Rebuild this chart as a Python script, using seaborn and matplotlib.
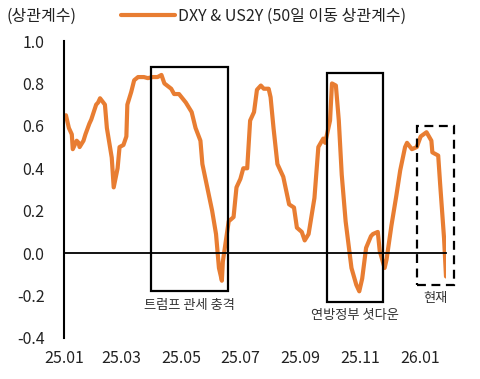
import pandas as pd
import matplotlib
matplotlib.use("Agg")
import matplotlib.pyplot as plt
import matplotlib.dates as mdates
from matplotlib.patches import Rectangle
import seaborn as sns

dates = ["2025-01-03", "2025-01-06", "2025-01-09", "2025-01-10", "2025-01-14", "2025-01-16",
         "2025-01-17", "2025-01-21", "2025-01-23", "2025-01-27", "2025-01-29", "2025-02-03",
         "2025-02-05", "2025-02-07", "2025-02-12", "2025-02-14", "2025-02-19", "2025-02-21",
         "2025-02-25", "2025-02-27", "2025-03-03", "2025-03-06", "2025-03-07", "2025-03-11",
         "2025-03-14", "2025-03-18", "2025-03-24", "2025-03-28", "2025-04-02", "2025-04-07",
         "2025-04-11", "2025-04-14", "2025-04-21", "2025-04-24", "2025-04-29", "2025-05-06",
         "2025-05-12", "2025-05-16", "2025-05-21", "2025-05-23", "2025-05-28", "2025-06-02",
         "2025-06-06", "2025-06-09", "2025-06-12", "2025-06-13", "2025-06-19", "2025-06-24",
         "2025-06-27", "2025-07-01", "2025-07-04", "2025-07-08", "2025-07-11", "2025-07-15",
         "2025-07-18", "2025-07-22", "2025-07-25", "2025-07-30", "2025-08-01", "2025-08-04",
         "2025-08-08", "2025-08-14", "2025-08-20", "2025-08-25", "2025-08-28", "2025-09-02",
         "2025-09-05", "2025-09-09", "2025-09-15", "2025-09-19", "2025-09-24", "2025-09-26",
         "2025-10-01", "2025-10-03", "2025-10-07", "2025-10-10", "2025-10-13", "2025-10-17",
         "2025-10-23", "2025-10-28", "2025-10-31", "2025-11-03", "2025-11-07", "2025-11-12",
         "2025-11-14", "2025-11-19", "2025-11-21", "2025-11-26", "2025-11-28", "2025-12-03",
         "2025-12-08", "2025-12-12", "2025-12-17", "2025-12-19", "2025-12-24", "2025-12-29",
         "2026-01-02", "2026-01-08", "2026-01-13", "2026-01-14", "2026-01-20", "2026-01-22",
         "2026-01-26", "2026-01-28"]
corr = [0.65, 0.59, 0.56, 0.49, 0.53, 0.52,
        0.50, 0.53, 0.56, 0.61, 0.63, 0.70,
        0.71, 0.73, 0.70, 0.59, 0.45, 0.31,
        0.40, 0.50, 0.51, 0.55, 0.70, 0.76,
        0.815, 0.83, 0.83, 0.825, 0.83, 0.83,
        0.84, 0.80, 0.775, 0.75, 0.75, 0.71,
        0.665, 0.59, 0.53, 0.42, 0.31, 0.20,
        0.09, -0.07, -0.13, -0.04, 0.15, 0.17,
        0.31, 0.35, 0.40, 0.40, 0.625, 0.665,
        0.77, 0.79, 0.775, 0.775, 0.735, 0.59,
        0.42, 0.36, 0.23, 0.215, 0.12, 0.10,
        0.06, 0.09, 0.26, 0.50, 0.54, 0.52,
        0.625, 0.80, 0.79, 0.625, 0.37, 0.15,
        -0.07, -0.15, -0.18, -0.12, 0.025, 0.08,
        0.09, 0.10, 0.01, -0.07, -0.03, 0.13,
        0.27, 0.39, 0.50, 0.52, 0.49, 0.50,
        0.55, 0.57, 0.53, 0.475, 0.46, 0.325,
        0.07, -0.11]

series_name = "DXY & US2Y (50일 이동 상관계수)"
# highlighted periods: (start, end, low, high, label, dashed)
periods = [("2025-03-31", "2025-06-18", -0.18, 0.878, "트럼프 관세 충격", False),
           ("2025-09-28", "2025-11-24", -0.23, 0.847, "연방정부 셧다운", False),
           ("2025-12-29", "2026-02-05", -0.15, 0.60, "현재", True)]

df = pd.DataFrame({"date": pd.to_datetime(dates), "corr": corr})

sns.set_style("white")
plt.rcParams['font.family'] = ['Noto Sans CJK KR', 'DejaVu Sans']
plt.rcParams['axes.unicode_minus'] = False

fig = plt.figure(figsize=(4.8, 3.79), dpi=100)
ax = fig.add_axes([64/480, 1-338/379, (446-64)/480, (338-41)/379])

sns.lineplot(data=df, x="date", y="corr", color="#E87D32", linewidth=3.0, ax=ax, label=series_name)

for start, end, lo, hi, label, dashed in periods:
    x0 = mdates.date2num(pd.Timestamp(start))
    x1 = mdates.date2num(pd.Timestamp(end))
    ax.add_patch(Rectangle((x0, lo), x1 - x0, hi - lo, fill=False, edgecolor="black",
                           linewidth=1.6, linestyle=(0, (4, 2.5)) if dashed else "-",
                           clip_on=False, zorder=4))
    ax.text((x0 + x1) / 2, lo - 0.035, label, ha="center", va="top", fontsize=9.5, color="#333333")

ax.set_ylim(-0.4, 1.0)
ax.set_yticks([-0.4, -0.2, 0.0, 0.2, 0.4, 0.6, 0.8, 1.0])
ax.yaxis.set_major_formatter(plt.FormatStrFormatter('%.1f'))
ax.set_xlim(pd.Timestamp("2025-01-01"), pd.Timestamp("2026-01-28"))
ax.set_xticks(pd.to_datetime(["2025-01-01", "2025-03-01", "2025-05-01", "2025-07-01",
                              "2025-09-01", "2025-11-01", "2026-01-01"]))
ax.xaxis.set_major_formatter(mdates.DateFormatter('%y.%m'))
ax.set_xlabel("")
ax.set_ylabel("")

for s in ["top", "right"]:
    ax.spines[s].set_visible(False)
ax.spines["left"].set_color("black")
ax.spines["left"].set_linewidth(1.5)
ax.spines["bottom"].set_position(("data", 0))
ax.spines["bottom"].set_color("black")
ax.spines["bottom"].set_linewidth(1.3)

ax.tick_params(axis="y", direction="in", length=4, width=1.3, pad=14, labelsize=11.5, colors="black")
ax.tick_params(axis="x", direction="in", length=4, width=1.3, pad=70, labelsize=11.5, colors="black")
ax.tick_params(axis="y", labelcolor="#222222")
ax.tick_params(axis="x", labelcolor="#222222")

fig.text(7/480, 1-16/379, "(상관계수)", fontsize=11.5, va="center", ha="left", color="#222222")
ax.legend(loc="center left", bbox_to_anchor=(113/480, 1-16/379), bbox_transform=fig.transFigure,
          frameon=False, fontsize=11.5, handlelength=3.4, handletextpad=0.2, borderpad=0,
          labelcolor="#222222")

fig.savefig("out.png", dpi=100)
